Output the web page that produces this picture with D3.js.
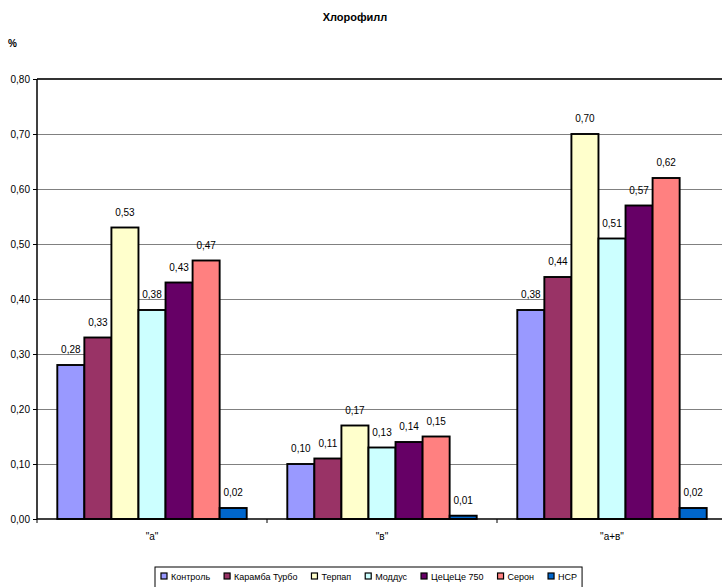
<!DOCTYPE html>
<html><head><meta charset="utf-8">
<script src="https://cdn.jsdelivr.net/npm/d3@7"></script>
<style>body{margin:0;background:#fff}svg{display:block;font-family:Arial,"Liberation Sans",sans-serif}</style>
</head><body><svg id="c" width="722" height="587"></svg>
<script>
const categories = ['"а"', '"в"', '"а+в"'];
const seriesNames = ["Контроль", "Карамба Турбо", "Терпап", "Моддус", "ЦеЦеЦе 750", "Серон", "НСР"];
const seriesColors = ["#9999FF", "#993366", "#FFFFCC", "#CCFFFF", "#660066", "#FF8080", "#0066CC"];
const valuesA = [0.28, 0.33, 0.53, 0.38, 0.43, 0.47, 0.02];
const valuesB = [0.10, 0.11, 0.17, 0.13, 0.14, 0.15, 0.006];
const valuesAB = [0.38, 0.44, 0.70, 0.51, 0.57, 0.62, 0.02];
const yTicks = [0, 0.1, 0.2, 0.3, 0.4, 0.5, 0.6, 0.7, 0.8];
const title = "Хлорофилл";
const yUnit = "%";

const groups = [valuesA, valuesB, valuesAB];
const svg = d3.select("#c");
const pL = 37, pR = 727, pT = 79, pB = 519;
const fmt = v => d3.format(".2f")(v).replace(".", ",");

const x0 = d3.scaleBand().domain(categories).range([pL, pR]).paddingInner(0).paddingOuter(0);
const x1 = d3.scaleBand().domain(seriesNames).range([0, x0.bandwidth()]).paddingInner(0).paddingOuter(0.75);
const y = d3.scaleLinear().domain([0, 0.8]).range([pB, pT]);

// gridlines
svg.append("g").selectAll("line").data(yTicks.filter(t => t > 0)).join("line")
  .attr("x1", pL).attr("x2", pR).attr("y1", d => y(d)).attr("y2", d => y(d))
  .attr("stroke", d => d === 0.8 ? "#333" : "#808080").attr("stroke-width", d => d === 0.8 ? 1.5 : 1)
  .attr("shape-rendering", "crispEdges");

// y axis
const yAxis = d3.axisLeft(y).tickValues(yTicks).tickSize(4).tickFormat(fmt);
const yg = svg.append("g").attr("transform", `translate(${pL},0)`).call(yAxis);
yg.select(".domain").remove();
yg.selectAll("line").attr("stroke", "#000");
yg.selectAll("text").attr("font-size", 10).attr("fill", "#000").attr("font-family", "Arial, 'Liberation Sans', sans-serif").attr("x", -7);
svg.append("line").attr("x1", pL).attr("x2", pL).attr("y1", pT).attr("y2", pB).attr("stroke", "#000").attr("stroke-width", 1.5);

// bars
const gs = svg.append("g").selectAll("g").data(groups).join("g")
  .attr("transform", (d, i) => `translate(${x0(categories[i])},0)`);
gs.selectAll("rect").data(d => d.map((v, j) => ({v, j}))).join("rect")
  .attr("x", d => x1(seriesNames[d.j])).attr("width", x1.bandwidth())
  .attr("y", d => y(d.v)).attr("height", d => y(0) - y(d.v))
  .attr("fill", d => seriesColors[d.j]).attr("stroke", "#000").attr("stroke-width", 1.9);
gs.selectAll("text").data(d => d.map((v, j) => ({v, j}))).join("text")
  .attr("x", d => x1(seriesNames[d.j]) + x1.bandwidth() / 2).attr("y", d => y(d.v) - 12)
  .attr("text-anchor", "middle").attr("font-size", 10).attr("fill", "#000")
  .text(d => fmt(d.v));

// x axis
const xAxis = d3.axisBottom(x0).tickSize(0).tickPadding(14);
const xg = svg.append("g").attr("transform", `translate(0,${pB})`).call(xAxis);
xg.select(".domain").remove();
xg.selectAll("text").attr("font-size", 10).attr("fill", "#000").attr("font-family", "Arial, 'Liberation Sans', sans-serif");
svg.append("line").attr("x1", pL).attr("x2", pR).attr("y1", pB).attr("y2", pB).attr("stroke", "#000").attr("stroke-width", 1.5);
svg.append("g").selectAll("line").data(categories).join("line")
  .attr("x1", d => x0(d)).attr("x2", d => x0(d)).attr("y1", pB).attr("y2", pB + 4).attr("stroke", "#000");

// title, unit
svg.append("text").attr("x", 355).attr("y", 21).attr("text-anchor", "middle").attr("font-size", 11).attr("font-weight", "bold").text(title);
svg.append("text").attr("x", 8).attr("y", 47).attr("font-size", 10).attr("font-weight", "bold").text(yUnit);

// legend
const lg = svg.append("g");
const lbox = lg.append("rect").attr("y", 567).attr("height", 21).attr("fill", "#fff").attr("stroke", "#000");
let lx = 161;
seriesNames.forEach((n, i) => {
  lg.append("rect").attr("x", lx).attr("y", 573).attr("width", 6).attr("height", 6).attr("fill", seriesColors[i]).attr("stroke", "#000").attr("stroke-width", 1.2);
  const t = lg.append("text").attr("x", lx + 10).attr("y", 580).attr("font-size", 9).text(n);
  lx += 10 + t.node().getComputedTextLength() + 14;
});
lbox.attr("x", 155).attr("width", lx - 14 + 5 - 155);
</script></body></html>
